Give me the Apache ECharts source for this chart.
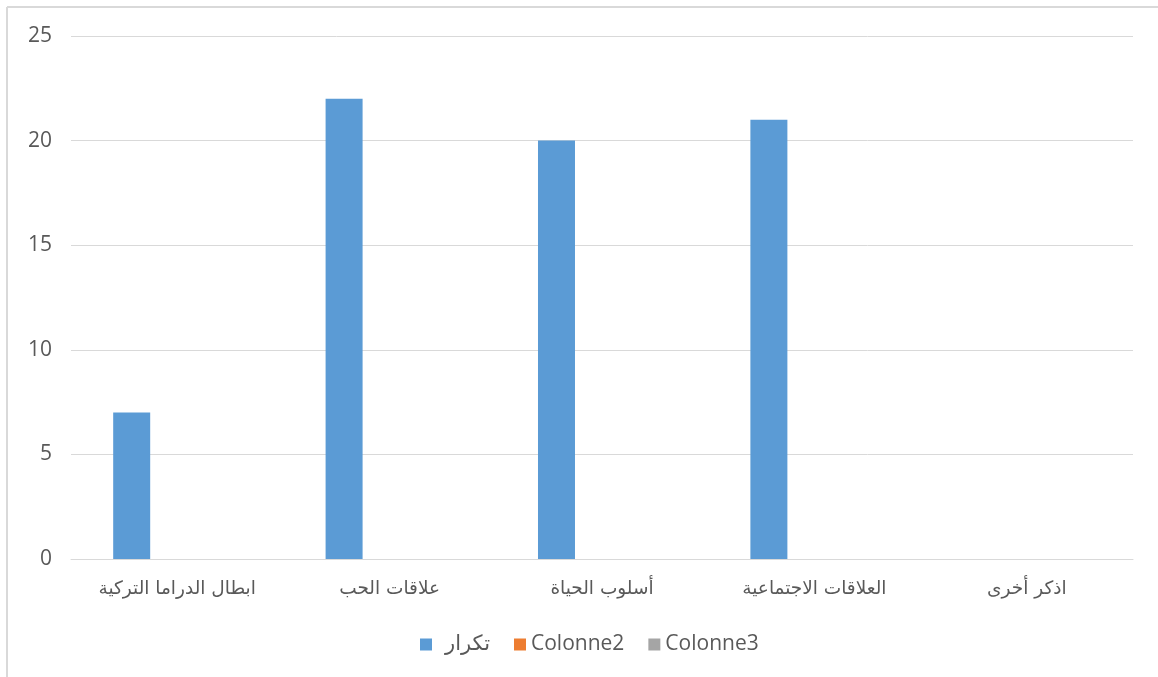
<!DOCTYPE html>
<html>
<head>
<meta charset="utf-8">
<script src="https://cdn.jsdelivr.net/npm/echarts@6/dist/echarts.min.js"></script>
<style>
html,body{margin:0;padding:0;background:#fff;}
#chart{width:1158px;height:677px;}
</style>
</head>
<body>
<div id="chart"></div>
<script>
const categories = ['ابطال الدراما التركية', 'علاقات الحب', 'أسلوب الحياة', 'العلاقات الاجتماعية', 'اذكر أخرى'];
const seriesNames = ['تكرار', 'Colonne2', 'Colonne3'];
const values1 = [7, 22, 20, 21, null];
const values2 = [null, null, null, null, null];
const values3 = [null, null, null, null, null];
const yTicks = [0, 5, 10, 15, 20, 25];
const colors = ['#5B9BD5', '#ED7D31', '#A5A5A5'];

const chart = echarts.init(document.getElementById('chart'));
const labelColor = '#595959';
chart.setOption({
  animation: false,
  color: colors,
  textStyle: { fontFamily: '"Open Sans", "DejaVu Sans", sans-serif' },
  grid: { left: 71, right: 25, top: 36, bottom: 118, containLabel: false },
  graphic: [
    { type: 'line', shape: { x1: 7, y1: 7, x2: 1158, y2: 7 }, style: { stroke: '#d9d9d9', lineWidth: 2 } },
    { type: 'line', shape: { x1: 7, y1: 7, x2: 7, y2: 677 }, style: { stroke: '#d9d9d9', lineWidth: 2 } }
  ],
  legend: {
    data: [
      { name: seriesNames[0], textStyle: { padding: [0, 0, 0, 8] } },
      { name: seriesNames[1] },
      { name: seriesNames[2] }
    ],
    top: 629,
    left: 415,
    itemWidth: 12,
    itemHeight: 12,
    itemGap: 24,
    icon: 'rect',
    textStyle: { color: labelColor, fontSize: 21, fontFamily: '"Open Sans", "DejaVu Sans", sans-serif' }
  },
  xAxis: {
    type: 'category',
    data: categories,
    axisLine: { lineStyle: { color: '#d9d9d9', width: 1 } },
    axisTick: { show: false },
    axisLabel: { color: labelColor, fontSize: 18.5, margin: 21, fontFamily: '"DejaVu Sans", sans-serif' }
  },
  yAxis: {
    type: 'value',
    min: yTicks[0],
    max: yTicks[yTicks.length - 1],
    interval: 5,
    axisLine: { show: false },
    axisTick: { show: false },
    splitLine: { lineStyle: { color: '#d9d9d9', width: 1 } },
    axisLabel: { color: labelColor, fontSize: 21, margin: 19, fontFamily: '"Open Sans", sans-serif' }
  },
  series: [
    { name: seriesNames[0], type: 'bar', data: values1, barWidth: 37, barGap: '23%' },
    { name: seriesNames[1], type: 'bar', data: values2, barWidth: 37, barGap: '23%' },
    { name: seriesNames[2], type: 'bar', data: values3, barWidth: 37, barGap: '23%' }
  ]
});
</script>
</body>
</html>
